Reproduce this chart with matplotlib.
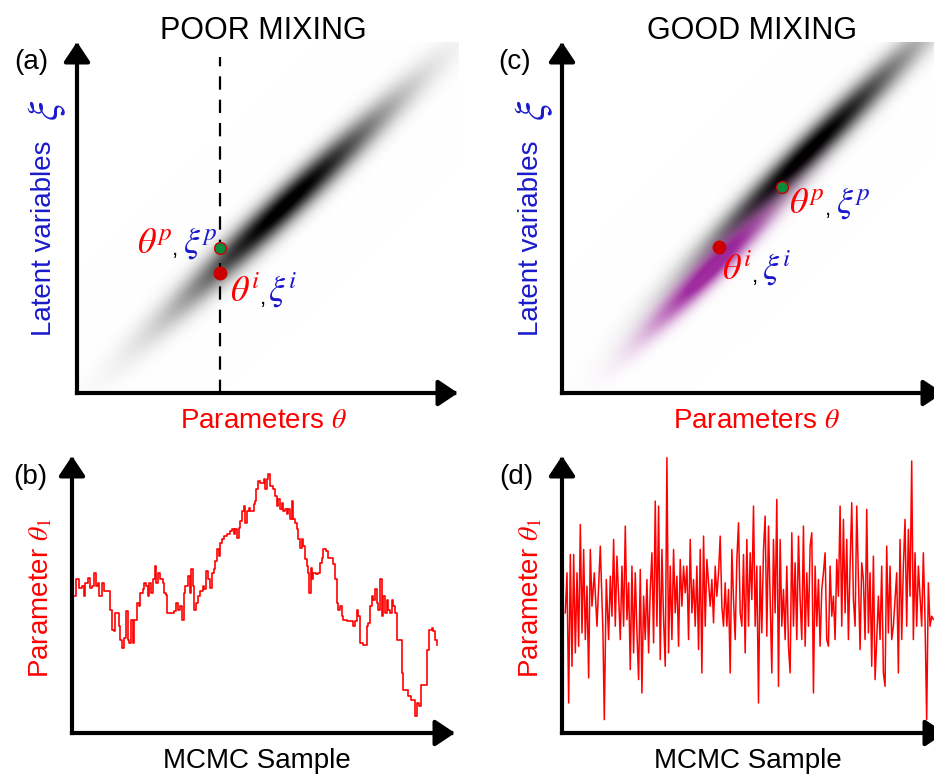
import numpy as np
import matplotlib.pyplot as plt

# MCMC mixing schematic: joint posterior (top) and trace plots (bottom)

W, H = 934, 774
plt.rcParams['font.family'] = ['Liberation Sans', 'DejaVu Sans']
plt.rcParams['mathtext.fontset'] = 'stix'

RED = '#ff0000'
BLUE = '#1a1acc'

# --- top panels: posterior band (data units = pixels from the axes origin)
a_band = dict(cx=208, cy=188, ang=43.5, s_long=95, s_short=11)
c_band = dict(cx=245, cy=240, ang=45.0, s_long=100, s_short=10.5)
c_purple = dict(cx=150, cy=125, ang=45.0, s_long=58, s_short=8.5)

a_cur = (143, 120)     # theta^i, xi^i
a_prop = (143, 145)    # theta^p, xi^p
a_dash_x = 143
a_dash_top = 336
c_cur = (157, 146)
c_prop = (220, 206)

# --- panel (b): slowly mixing chain
b_sample = [10, 13, 20, 30, 35, 40, 47, 53, 60, 67, 72, 77, 82, 90, 95, 105, 113, 115, 120, 125,
            130, 137, 140, 145, 150, 157, 163, 168, 172, 177, 183, 187, 195, 200, 205, 213, 217, 223, 227, 232,
            237, 243, 248, 253, 258, 265, 272, 277, 281, 285, 295, 305, 312, 317, 325, 330, 335, 340, 347, 353,
            357, 363, 367, 372, 377, 385, 392, 397, 402, 407, 413, 420, 425, 430, 435, 440, 445, 450, 455, 465,
            475, 480, 485, 490, 495, 500, 505, 510, 515, 520, 525, 530, 535, 540, 545, 550, 553, 557, 565, 575,
            580, 585, 590, 595, 603, 610, 615, 620, 625, 630, 635, 640, 645, 650, 655, 660, 665, 670, 675, 680,
            685, 690, 695, 700, 705, 710, 713, 717, 721, 725, 733, 740, 745, 750, 755, 763, 770, 780, 785, 790,
            795, 800, 805, 810, 815, 825, 835, 845, 850, 855, 860, 865, 875, 883, 885, 890, 895, 900, 905, 910,
            915, 920, 925, 930, 935, 940, 945, 950, 955, 960, 965, 970, 975, 985, 990, 995, 1005, 1010, 1017, 1025,
            1030, 1035, 1042, 1047, 1055, 1063, 1067, 1073, 1080, 1085, 1090, 1095]
b_theta = [410, 460, 435, 440, 410, 450, 465, 435, 440, 480, 440, 450, 410, 450, 425, 425, 420, 370, 310, 305,
           360, 360, 320, 280, 255, 285, 365, 280, 270, 340, 270, 340, 390, 380, 420, 430, 450, 440, 410, 450,
           420, 460, 500, 450, 480, 460, 450, 420, 415, 360, 360, 365, 390, 370, 380, 340, 420, 440, 470, 420,
           490, 440, 370, 390, 410, 425, 440, 430, 485, 460, 435, 480, 490, 515, 550, 530, 570, 580, 590, 595,
           605, 610, 595, 610, 585, 615, 635, 665, 680, 630, 665, 675, 665, 665, 685, 695, 730, 755, 750, 760,
           730, 760, 775, 740, 730, 710, 680, 700, 670, 690, 665, 670, 655, 670, 640, 695, 640, 630, 610, 580,
           555, 580, 560, 520, 500, 480, 420, 495, 460, 480, 475, 480, 510, 525, 550, 545, 525, 525, 505, 460,
           390, 370, 380, 350, 340, 335, 335, 320, 335, 370, 350, 270, 265, 265, 320, 330, 380, 410, 400, 430,
           390, 370, 460, 350, 410, 360, 400, 370, 360, 400, 380, 360, 280, 280, 180, 130, 130, 110, 100, 100,
           50, 90, 80, 145, 145, 145, 250, 310, 315, 305, 280, 265]

# --- panel (d): well mixing chain
d_sample = [10, 15, 20, 25, 30, 35, 40, 45, 50, 55, 60, 65, 70, 75, 80, 85, 90, 97, 105, 115,
            123, 127, 133, 140, 145, 150, 155, 160, 165, 170, 175, 180, 185, 190, 195, 200, 205, 210, 215, 220,
            225, 230, 235, 240, 245, 250, 255, 260, 265, 270, 275, 280, 285, 290, 295, 300, 305, 310, 315, 320,
            325, 330, 335, 340, 345, 350, 355, 360, 365, 370, 375, 380, 385, 390, 395, 400, 405, 410, 415, 420,
            425, 430, 435, 445, 450, 455, 460, 465, 470, 475, 480, 485, 490, 495, 500, 505, 510, 515, 520, 525,
            530, 535, 540, 545, 550, 555, 560, 565, 570, 575, 580, 585, 590, 595, 600, 605, 610, 615, 620, 625,
            630, 635, 640, 645, 650, 655, 660, 665, 670, 675, 680, 685, 690, 695, 700, 705, 710, 715, 720, 725,
            730, 735, 740, 745, 750, 755, 760, 765, 770, 775, 780, 785, 790, 795, 800, 805, 810, 815, 820, 825,
            830, 835, 840, 845, 850, 855, 860, 865, 870, 875, 880, 885, 890, 895, 900, 905, 910, 915, 920, 925,
            930, 935, 940, 945, 950, 955, 960, 965, 970, 975, 980, 985, 990, 995, 1000, 1005, 1010, 1015, 1020, 1025,
            1030, 1035, 1040, 1045, 1050, 1055, 1060, 1065, 1070, 1075, 1080, 1085, 1090, 1095, 1100, 1105, 1110, 1115]
d_theta = [360, 480, 90, 535, 200, 535, 240, 480, 260, 625, 300, 550, 280, 440, 165, 550, 380, 480, 320, 560,
           300, 40, 460, 280, 470, 350, 580, 320, 530, 410, 280, 500, 320, 620, 340, 450, 190, 500, 240, 480,
           300, 160, 490, 120, 410, 280, 460, 240, 430, 540, 270, 695, 320, 680, 220, 550, 340, 200, 825, 240,
           500, 280, 550, 360, 470, 260, 520, 380, 500, 420, 500, 280, 580, 360, 460, 320, 500, 250, 550, 180,
           590, 320, 520, 380, 460, 330, 500, 410, 480, 590, 380, 320, 450, 320, 430, 180, 550, 400, 280, 520,
           630, 360, 320, 535, 240, 580, 320, 540, 400, 680, 320, 500, 90, 500, 300, 550, 650, 290, 620, 400,
           180, 580, 360, 700, 140, 580, 320, 430, 280, 500, 260, 180, 600, 320, 510, 280, 590, 400, 280, 620,
           260, 480, 320, 560, 600, 120, 500, 320, 460, 260, 430, 480, 540, 280, 260, 500, 350, 410, 280, 520,
           410, 680, 320, 640, 360, 580, 280, 500, 690, 400, 320, 680, 470, 250, 510, 460, 280, 670, 300, 480,
           200, 530, 160, 280, 410, 280, 500, 180, 140, 560, 300, 500, 280, 320, 400, 480, 180, 580, 280, 500,
           640, 320, 610, 410, 815, 280, 540, 320, 500, 410, 320, 540, 340, 40, 450, 320, 350, 340]


def px_rect(left, bottom, w, h):
    return [left / W, 1 - bottom / H, w / W, h / H]


def ftext(x, y, s, **kw):
    return fig.text(x / W, 1 - y / H, s, **kw)


def density(w, h, p, n=500):
    xx, yy = np.meshgrid(np.linspace(0, w, n), np.linspace(0, h, n))
    a = np.deg2rad(p['ang'])
    u = (xx - p['cx']) * np.cos(a) + (yy - p['cy']) * np.sin(a)
    v = -(xx - p['cx']) * np.sin(a) + (yy - p['cy']) * np.cos(a)
    return np.exp(-0.5 * (u ** 2 / p['s_long'] ** 2 + v ** 2 / p['s_short'] ** 2))


def arrows(ax):
    kw = dict(arrowstyle='-|>,head_length=0.6,head_width=0.4', lw=3, color='k',
              shrinkA=0, shrinkB=0, mutation_scale=20, capstyle='projecting')
    ax.annotate('', xy=(0, 1), xytext=(0, 0), xycoords='axes fraction',
                arrowprops=kw, annotation_clip=False)
    ax.annotate('', xy=(1, 0), xytext=(0, 0), xycoords='axes fraction',
                arrowprops=kw, annotation_clip=False)


fig = plt.figure(figsize=(W / 100, H / 100), dpi=100)

# ---------------- (a) poor mixing posterior
axA = fig.add_axes(px_rect(77, 393, 381, 351))
aw, ah = 381, 351
dark = np.clip(1.05 * density(aw, ah, a_band), 0, 1)
img = np.repeat((1 - dark)[..., None], 3, axis=2)
axA.imshow(img, origin='lower', extent=(0, aw, 0, ah), aspect='auto', interpolation='bilinear')
axA.plot([a_dash_x, a_dash_x], [0, a_dash_top], color='k', lw=1.6, ls=(0, (6, 4.5)))
axA.plot(*a_prop, 'o', ms=8.5, mfc='#0a8a3c', mec='#cc0000', mew=1)
axA.plot(*a_cur, 'o', ms=9, mfc='#cc0000', mec='#cc0000')
axA.set_xlim(0, aw)
axA.set_ylim(0, ah)
axA.set_axis_off()
arrows(axA)

# ---------------- (c) good mixing posterior
axC = fig.add_axes(px_rect(562, 393, 381, 351))
dark = np.clip(1.05 * density(aw, ah, c_band), 0, 1)
img = np.repeat((1 - dark)[..., None], 3, axis=2)
pa = np.clip(1.2 * density(aw, ah, c_purple), 0, 1)[..., None] * 0.85
purple = np.array([0.58, 0.05, 0.58])
img = img * (1 - pa) + purple * pa
axC.imshow(img, origin='lower', extent=(0, aw, 0, ah), aspect='auto', interpolation='bilinear')
axC.plot(*c_prop, 'o', ms=8.5, mfc='#0a8a3c', mec='#cc0000', mew=1)
axC.plot(*c_cur, 'o', ms=9, mfc='#cc0000', mec='#cc0000')
axC.set_xlim(0, aw)
axC.set_ylim(0, ah)
axC.set_axis_off()
arrows(axC)

# ---------------- (b) and (d) traces
axB = fig.add_axes(px_rect(72, 733, 383, 277))
axB.plot(b_sample, b_theta, color=RED, lw=1.2, drawstyle='steps-post')
axB.set_xlim(0, 1150)
axB.set_ylim(0, 830)
axB.set_axis_off()
arrows(axB)

axD = fig.add_axes(px_rect(562, 733, 383, 277))
axD.plot(d_sample, d_theta, color=RED, lw=1.1)
axD.set_xlim(0, 1150)
axD.set_ylim(0, 830)
axD.set_axis_off()
arrows(axD)

# ---------------- texts
ftext(263, 31, 'POOR MIXING', fontsize=22, ha='center', va='center')
ftext(752, 31, 'GOOD MIXING', fontsize=22, ha='center', va='center')
for x, y, s in [(31, 62, '(a)'), (515, 62, '(c)'), (30, 477, '(b)'), (516, 477, '(d)')]:
    ftext(x, y, s, fontsize=20, ha='center', va='center')

for x0 in (44, 531):
    ftext(x0, 238, 'Latent variables', fontsize=20, color=BLUE, rotation=90, ha='center', va='center')
    ftext(x0 + 3, 110, r'$\xi$', fontsize=31, color=BLUE, rotation=90, ha='center', va='center')
for x0 in (263, 756):
    ftext(x0, 421, r'Parameters $\theta$', fontsize=20, color=RED, ha='center', va='center')
for x0 in (41, 531):
    ftext(x0, 598, r'Parameter $\theta_1$', fontsize=20, color=RED, rotation=90, ha='center', va='center')
for x0 in (257, 748):
    ftext(x0, 761, 'MCMC Sample', fontsize=20, ha='center', va='center')

# point labels
for (tx, cx, xx, yb, sup) in [(137, 172, 183, 253, 'p'), (230, 260, 268, 302, 'i'),
                              (789, 825, 836, 213, 'p'), (722, 752, 762, 280, 'i')]:
    ftext(tx, yb, r'$\theta^{%s}$' % sup, fontsize=26, color=RED, ha='left', va='baseline')
    ftext(cx, yb + 2, ',', fontsize=16, color='k', ha='left', va='baseline')
    ftext(xx, yb, r'$\xi^{%s}$' % sup, fontsize=26, color=BLUE, ha='left', va='baseline')

fig.savefig('out.png', dpi=100)
